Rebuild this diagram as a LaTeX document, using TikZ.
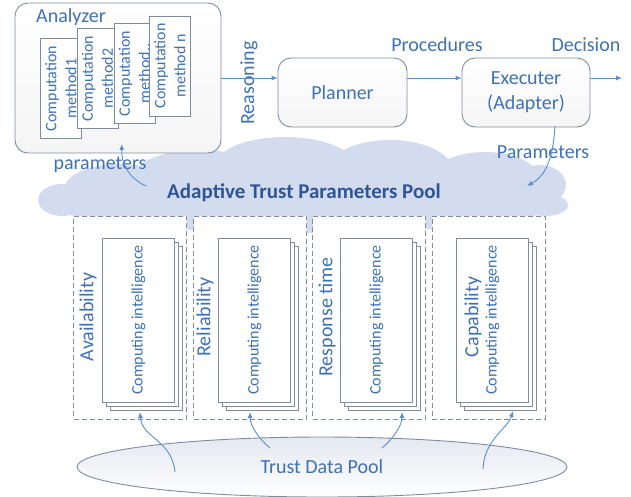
\documentclass[tikz,border=0pt]{standalone}
\usepackage{fontspec}
\setmainfont{Carlito}
\usetikzlibrary{shapes.geometric,arrows.meta,positioning}

\definecolor{txtblue}{HTML}{3E72B5}
\definecolor{darkblue}{HTML}{2F5596}
\definecolor{linegray}{HTML}{7F8C9E}
\definecolor{arrowblue}{HTML}{5B8FC9}
\definecolor{cloudfill}{HTML}{D3DCEE}
\definecolor{ellfill}{HTML}{E4E8F0}

\begin{document}
\begin{tikzpicture}[x=1pt,y=-1pt,>={Latex[length=6pt,width=5pt]},
    font=\fontsize{20}{25}\selectfont, text=txtblue,
    roundbox/.style={draw=linegray, line width=0.9pt, rounded corners=13pt, top color=white, bottom color=black!4},
    methodbox/.style={draw=linegray, line width=0.9pt, fill=white, rotate=90, minimum width=100pt, minimum height=41pt, inner sep=1pt, align=center, font=\fontsize{16}{20}\selectfont},
    dashbox/.style={draw=linegray, line width=0.9pt, dash pattern=on 5pt off 3pt, fill=white, minimum width=113pt, minimum height=203pt},
    layer/.style={draw=linegray, line width=0.9pt, fill=white},
    cibox/.style={layer, rotate=90, minimum width=164pt, minimum height=72pt, font=\fontsize{16}{20}\selectfont},
    flow/.style={->, draw=arrowblue, line width=0.9pt}]
\useasboundingbox (0,0) rectangle (631,496);

% parameter pool (cloud made of puffs)
\foreach \px/\py/\rx/\ry in {62/200/24/16, 120/188/55/24, 200/175/65/25, 285/166/70/29, 390/170/62/30, 485/180/55/28, 540/185/26/20, 545/205/23/11, 304/203/255/30}
  \fill[cloudfill] (\px,\py) ellipse [x radius=\rx, y radius=\ry];
\node[font=\fontsize{21}{24}\selectfont\bfseries, text=darkblue] (atpplbl) at (304,193) {Adaptive Trust Parameters Pool};

% analyzer with its methods
\node[roundbox, minimum width=206pt, minimum height=150pt] (analyzer) at (118,78) {};
\node (analyzerlbl) at (71,17) {Analyzer};
\node[methodbox] (m1) at (61,88.5) {Computation\\method1};
\node[methodbox] (m2) at (97.5,78.5) {Computation\\method2};
\node[methodbox] (m3) at (134.5,73.5) {Computation\\method..};
\node[methodbox] (m4) at (170,66) {Computation\\method n};

\node[roundbox, minimum width=129pt, minimum height=69pt] (planner) at (342.5,92.5) {Planner};
\node[roundbox, minimum width=128pt, minimum height=69pt, align=center] (executer) at (526,92.5) {Executer\\(Adapter)};

\node[rotate=90] (reasoning) at (249,83) {Reasoning};
\node (procedures) at (437,45) {Procedures};
\node (decision) at (586,45) {Decision};
\coordinate (decend) at (622,78);

\draw[flow] (analyzer.east) -- (planner.west |- analyzer.east);
\draw[flow] (planner.east |- analyzer.east) -- (executer.west |- analyzer.east);
\draw[flow] (executer.east |- decend) -- (decend);

% parameters in and out of the pool
\node (paramlbl) at (543,152) {Parameters};
\coordinate (paramstart) at (555,126);
\coordinate (paramend) at (527,186);
\draw[flow] (paramstart) .. controls (553,160) and (545,176) .. (paramend);

\node (paramslbl) at (100,165) {parameters};
\coordinate (anastart) at (146,186);
\coordinate (anaend) at (122,144);
\draw[flow] (anastart) .. controls (128,178) and (121,162) .. (anaend);

% trust attributes
\foreach \cx/\fx/\lx/\lbl/\nm in {130/138.5/88/Availability/avail, 250/254.5/205/Reliability/rel, 369/376.5/327/Response time/resp, 488.5/492.5/473/Capability/cap}{
  \node[dashbox] (\nm) at (\cx,317.5) {};
  \foreach \d in {8,4}
    \draw[layer] ({\fx-36+\d},{238+\d}) rectangle ({\fx+36+\d},{402+\d});
  \node[cibox] (\nm ci) at (\fx,320) {Computing intelligence};
  \node[rotate=90] (\nm lbl) at (\lx,317) {\lbl};
}

% data pool
\node[ellipse, draw=linegray, line width=0.9pt, top color=ellfill, bottom color=white, minimum width=490pt, minimum height=60pt] (datapool) at (322,467) {Trust Data Pool};

\coordinate (s1) at (175,472); \coordinate (t1) at (140,412);
\coordinate (s2) at (270,448); \coordinate (t2) at (250,412);
\coordinate (s3) at (382,448); \coordinate (t3) at (402,412);
\coordinate (s4) at (483,469); \coordinate (t4) at (513,411);
\draw[flow] (s1) .. controls (172,440) and (142,438) .. (t1);
\draw[flow] (s2) .. controls (258,438) and (250,425) .. (t2);
\draw[flow] (s3) .. controls (394,438) and (402,425) .. (t3);
\draw[flow] (s4) .. controls (484,440) and (508,428) .. (t4);
\end{tikzpicture}
\end{document}
